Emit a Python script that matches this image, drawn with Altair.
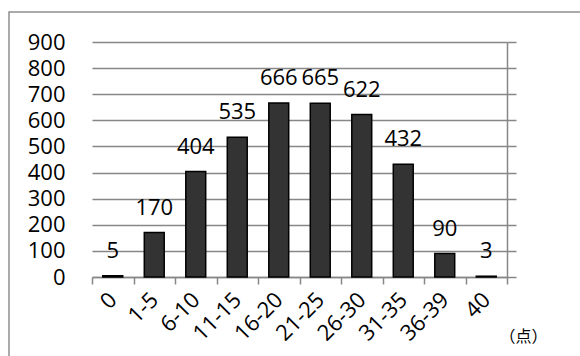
import altair as alt
import pandas as pd

# Score bands and number of students in each band
bands = ["0", "1-5", "6-10", "11-15", "16-20", "21-25", "26-30", "31-35", "36-39", "40"]
counts = [5, 170, 404, 535, 666, 665, 622, 432, 90, 3]

df = pd.DataFrame({"band": bands, "count": counts})

FONT = "Open Sans"
GRID = "#878787"

x_enc = alt.X(
    "band:N",
    sort=bands,
    scale=alt.Scale(paddingInner=0, paddingOuter=0),
    axis=alt.Axis(
        title="（点）",
        titleFont="Noto Sans CJK JP",
        titleFontSize=16,
        titleFontWeight="normal",
        titleColor="black",
        titleX=431,
        titleY=59,
        titleAlign="center",
        titleBaseline="middle",
        labelAngle=315,
        labelAlign="right",
        labelBaseline="middle",
        labelFont=FONT,
        labelFontSize=22,
        labelColor="black",
        labelPadding=12,
        labelOverlap=False,
        tickBand="extent",
        tickSize=7,
        tickColor=GRID,
        tickWidth=1.5,
        domainColor=GRID,
        domainWidth=1.5,
        grid=False,
    ),
)

y_scale = alt.Scale(domain=[0, 900])

bars = alt.Chart(df).mark_bar(
    width=alt.RelativeBandSize(0.48),
    color="#333333",
    stroke="black",
    strokeWidth=1.5,
).encode(
    x=x_enc,
    y=alt.Y(
        "count:Q",
        scale=y_scale,
        axis=alt.Axis(
            title=None,
            values=list(range(0, 1000, 100)),
            labelFont=FONT,
            labelFontSize=22,
            labelColor="black",
            labelPadding=27,
            labelOverlap=False,
            ticks=False,
            domain=False,
            grid=True,
            gridColor=GRID,
            gridWidth=1.5,
        ),
    ),
)

labels = alt.Chart(df).mark_text(
    font=FONT,
    fontSize=22,
    color="black",
    baseline="alphabetic",
    dy=-18,
).encode(
    x=x_enc,
    y=alt.Y(
        "count:Q",
        scale=y_scale,
        axis=alt.Axis(
            orient="right",
            title=None,
            values=list(range(0, 1000, 100)),
            labels=False,
            ticks=True,
            tickSize=9,
            tickColor=GRID,
            tickWidth=1.5,
            domain=True,
            domainColor=GRID,
            domainWidth=1.5,
            grid=False,
        ),
    ),
    text="count:Q",
)

# Outer frame around the whole chart
frame = alt.Chart(alt.Data(values=[{}])).mark_rect(
    fill=None, stroke="#8f8f8f", strokeWidth=1.5
).encode(
    x=alt.value(-83),
    x2=alt.value(620),
    y=alt.value(-30),
    y2=alt.value(400),
)

chart = (
    alt.layer(frame, bars, labels)
    .resolve_axis(y="independent")
    .properties(
        width=415,
        height=235,
        padding={"left": 92, "top": 42, "right": 73, "bottom": 79},
        autosize=alt.AutoSizeParams(type="none"),
        background="white",
    )
    .configure_view(stroke=None)
)

chart.save("out.html", embed_options={"renderer": "svg", "actions": False})
